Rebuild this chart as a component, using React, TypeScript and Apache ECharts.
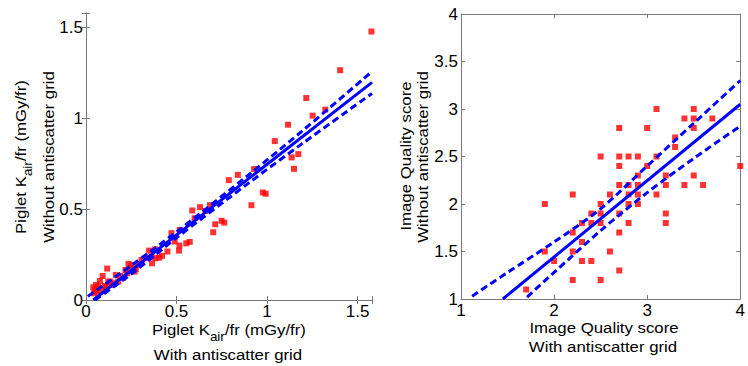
import React, { useEffect, useRef } from "react";
import * as echarts from "echarts";

// Left panel: Piglet Kair/fr with grid (x) vs without grid (y)
const pigletPoints: [number, number][] = [
  [1.577, 1.478], [1.404, 1.265], [1.217, 1.112], [1.252, 1.015], [1.322, 1.048],
  [1.116, 0.965], [1.043, 0.875], [1.136, 0.785], [1.173, 0.803], [1.149, 0.722],
  [0.929, 0.721], [0.914, 0.522], [0.977, 0.592], [0.993, 0.585], [0.789, 0.66],
  [0.839, 0.689], [0.685, 0.522], [0.63, 0.511], [0.587, 0.493], [0.714, 0.417],
  [0.749, 0.436], [0.764, 0.426], [0.703, 0.373], [0.573, 0.32], [0.554, 0.312],
  [0.518, 0.386], [0.516, 0.3], [0.514, 0.272], [0.49, 0.322], [0.472, 0.368],
  [0.45, 0.267], [0.42, 0.243], [0.404, 0.233], [0.382, 0.279], [0.384, 0.23],
  [0.365, 0.202], [0.362, 0.239], [0.349, 0.272], [0.307, 0.22], [0.285, 0.193],
  [0.275, 0.169], [0.268, 0.156], [0.252, 0.193], [0.246, 0.175], [0.228, 0.147],
  [0.218, 0.165], [0.206, 0.123], [0.189, 0.132], [0.165, 0.138], [0.156, 0.092],
  [0.141, 0.083], [0.117, 0.173], [0.123, 0.101], [0.105, 0.077], [0.092, 0.132],
  [0.077, 0.105], [0.068, 0.074], [0.055, 0.083], [0.05, 0.055], [0.04, 0.07],
  [0.044, 0.037], [0.062, 0.046], [0.086, 0.055], [0.11, 0.07], [0.134, 0.101],
  [0.178, 0.101], [0.235, 0.199], [0.329, 0.23], [0.6, 0.45], [0.66, 0.49],
];
const pigletFit: [number, number][] = [[0.04, 0], [1.58, 1.198]];
const pigletUpper: [number, number][] = [
  [0.01, 0.02], [0.25, 0.19], [0.5, 0.375], [0.9, 0.69], [1.2, 0.935], [1.58, 1.258],
];
const pigletLower: [number, number][] = [
  [0.05, 0], [0.25, 0.143], [0.5, 0.342], [0.9, 0.645], [1.2, 0.865], [1.58, 1.137],
];

// Right panel: Image quality score with grid (x) vs without grid (y)
const iqPoints: [number, number][] = [
  [1.7, 1.1], [1.9, 2.0], [1.9, 1.5], [2.0, 1.4], [2.2, 2.1], [2.2, 1.7], [2.2, 1.5],
  [2.2, 1.2], [2.3, 1.8], [2.3, 1.6], [2.3, 1.4], [2.4, 1.9], [2.4, 1.8], [2.4, 1.4],
  [2.5, 2.5], [2.5, 2.0], [2.5, 1.9], [2.5, 1.8], [2.5, 1.2], [2.6, 2.1], [2.6, 1.5],
  [2.7, 2.8], [2.7, 2.5], [2.7, 2.4], [2.7, 2.2], [2.7, 1.9], [2.7, 1.7], [2.7, 1.3],
  [2.8, 2.5], [2.8, 2.2], [2.8, 2.1], [2.8, 2.0], [2.8, 1.8], [2.9, 2.5], [2.9, 2.3],
  [2.9, 2.2], [2.9, 2.1], [2.9, 2.0], [3.0, 2.8], [3.0, 2.4], [3.1, 3.0], [3.1, 2.5],
  [3.1, 2.1], [3.2, 2.3], [3.2, 2.2], [3.2, 1.9], [3.2, 1.8], [3.3, 2.7], [3.3, 2.6],
  [3.4, 2.9], [3.4, 2.2], [3.5, 3.0], [3.5, 2.9], [3.5, 2.8], [3.5, 2.3], [3.6, 2.2],
  [3.7, 2.9], [4.0, 2.4],
];
const iqFit: [number, number][] = [[1.45, 1.0], [4.0, 3.05]];
const iqUpper: [number, number][] = [
  [1.12, 1.03], [1.5, 1.28], [2.0, 1.6], [2.5, 1.95], [3.0, 2.4], [3.5, 2.85], [4.0, 3.3],
];
const iqLower: [number, number][] = [
  [1.71, 1.02], [2.0, 1.28], [2.5, 1.72], [3.0, 2.12], [3.5, 2.48], [4.0, 2.82],
];

const leftTicks = [0, 0.5, 1, 1.5];

const FONT = "'Liberation Sans', Arial, sans-serif";
const BOX = "#7a7a7a";

function axisBase(show: boolean) {
  return {
    type: "value" as const,
    axisLine: { show: true, lineStyle: { color: BOX, width: 1 } },
    axisTick: { show: true, inside: true, length: 4, lineStyle: { color: BOX } },
    splitLine: { show: false },
    axisLabel: {
      show,
      color: "#000",
      fontSize: 17,
      fontFamily: FONT,
      margin: 3,
    },
  };
}

export default function App() {
  const ref = useRef<HTMLDivElement>(null);
  useEffect(() => {
    if (!ref.current) return;
    const chart = echarts.init(ref.current, undefined, { renderer: "svg" });
    const leftFmt = (v: number) =>
      leftTicks.some((t) => Math.abs(t - v) < 1e-6) ? String(v) : "";
    const line = (data: [number, number][], xi: number, dashed: boolean) => ({
      type: "line",
      xAxisIndex: xi,
      yAxisIndex: xi,
      data,
      showSymbol: false,
      symbol: "none",
      smooth: dashed ? 0.3 : false,
      clip: true,
      z: 3,
      lineStyle: { color: "#0000ff", width: 3, type: dashed ? [7, 4] : "solid" },
    });
    const sub = {
      n: { fontSize: 15, lineHeight: 25, fontFamily: FONT, fill: "#000" },
      s: { fontSize: 12, lineHeight: 12, fontFamily: FONT, verticalAlign: "bottom", fill: "#000" },
    };
    const txt = (text: string, x: number, y: number, rot: number, rich?: any) => ({
      type: "text",
      x,
      y,
      rotation: rot,
      scaleX: 1.12,
      style: {
        text,
        rich,
        fill: "#000",
        fontSize: 15,
        fontFamily: FONT,
        align: "center",
        verticalAlign: "middle",
      },
    });
    chart.setOption({
      animation: false,
      grid: [
        { left: 86, top: 13, width: 286, height: 287 },
        { left: 461, top: 14, width: 285, height: 285 },
      ],
      xAxis: [
        { ...axisBase(true), gridIndex: 0, min: 0, max: 1.58, interval: 0.5, position: "bottom",
          axisLabel: { ...axisBase(true).axisLabel, formatter: leftFmt } },
        { ...axisBase(true), gridIndex: 1, min: 1, max: 4, interval: 1, position: "bottom" },
        { ...axisBase(false), gridIndex: 0, min: 0, max: 1.58, interval: 0.5, position: "top" },
        { ...axisBase(false), gridIndex: 1, min: 1, max: 4, interval: 1, position: "top" },
      ],
      yAxis: [
        { ...axisBase(true), gridIndex: 0, min: 0, max: 1.58, interval: 0.5, position: "left",
          axisLabel: { ...axisBase(true).axisLabel, formatter: leftFmt } },
        { ...axisBase(true), gridIndex: 1, min: 1, max: 4, interval: 0.5, position: "left" },
        { ...axisBase(false), gridIndex: 0, min: 0, max: 1.58, interval: 0.5, position: "right" },
        { ...axisBase(false), gridIndex: 1, min: 1, max: 4, interval: 0.5, position: "right" },
      ],
      series: [
        {
          type: "scatter", xAxisIndex: 0, yAxisIndex: 0, data: pigletPoints,
          symbol: "rect", symbolSize: 6, itemStyle: { color: "#ff0000" }, z: 2,
        },
        line(pigletFit, 0, false),
        line(pigletUpper, 0, true),
        line(pigletLower, 0, true),
        {
          type: "scatter", xAxisIndex: 1, yAxisIndex: 1, data: iqPoints,
          symbol: "rect", symbolSize: 6, itemStyle: { color: "#ff0000" }, z: 2,
        },
        line(iqFit, 1, false),
        line(iqUpper, 1, true),
        line(iqLower, 1, true),
      ],
      graphic: [
        txt("{n|Piglet K}{s|air}{n|/fr (mGy/fr)}", 21, 157, Math.PI / 2, sub),
        txt("Without antiscatter grid", 49, 157, Math.PI / 2),
        txt("{n|Piglet K}{s|air}{n|/fr (mGy/fr)}", 229, 330, 0, sub),
        txt("With antiscatter grid", 228, 355, 0),
        txt("Image Quality score", 406, 156, Math.PI / 2),
        txt("Without antiscatter grid", 423, 157, Math.PI / 2),
        txt("Image Quality score", 604, 328, 0),
        txt("With antiscatter grid", 603, 347, 0),
      ],
    });
    return () => chart.dispose();
  }, []);
  return (
    <div
      ref={ref}
      style={{ position: "fixed", left: 0, top: 0, width: 748, height: 366, background: "#fff" }}
    />
  );
}
